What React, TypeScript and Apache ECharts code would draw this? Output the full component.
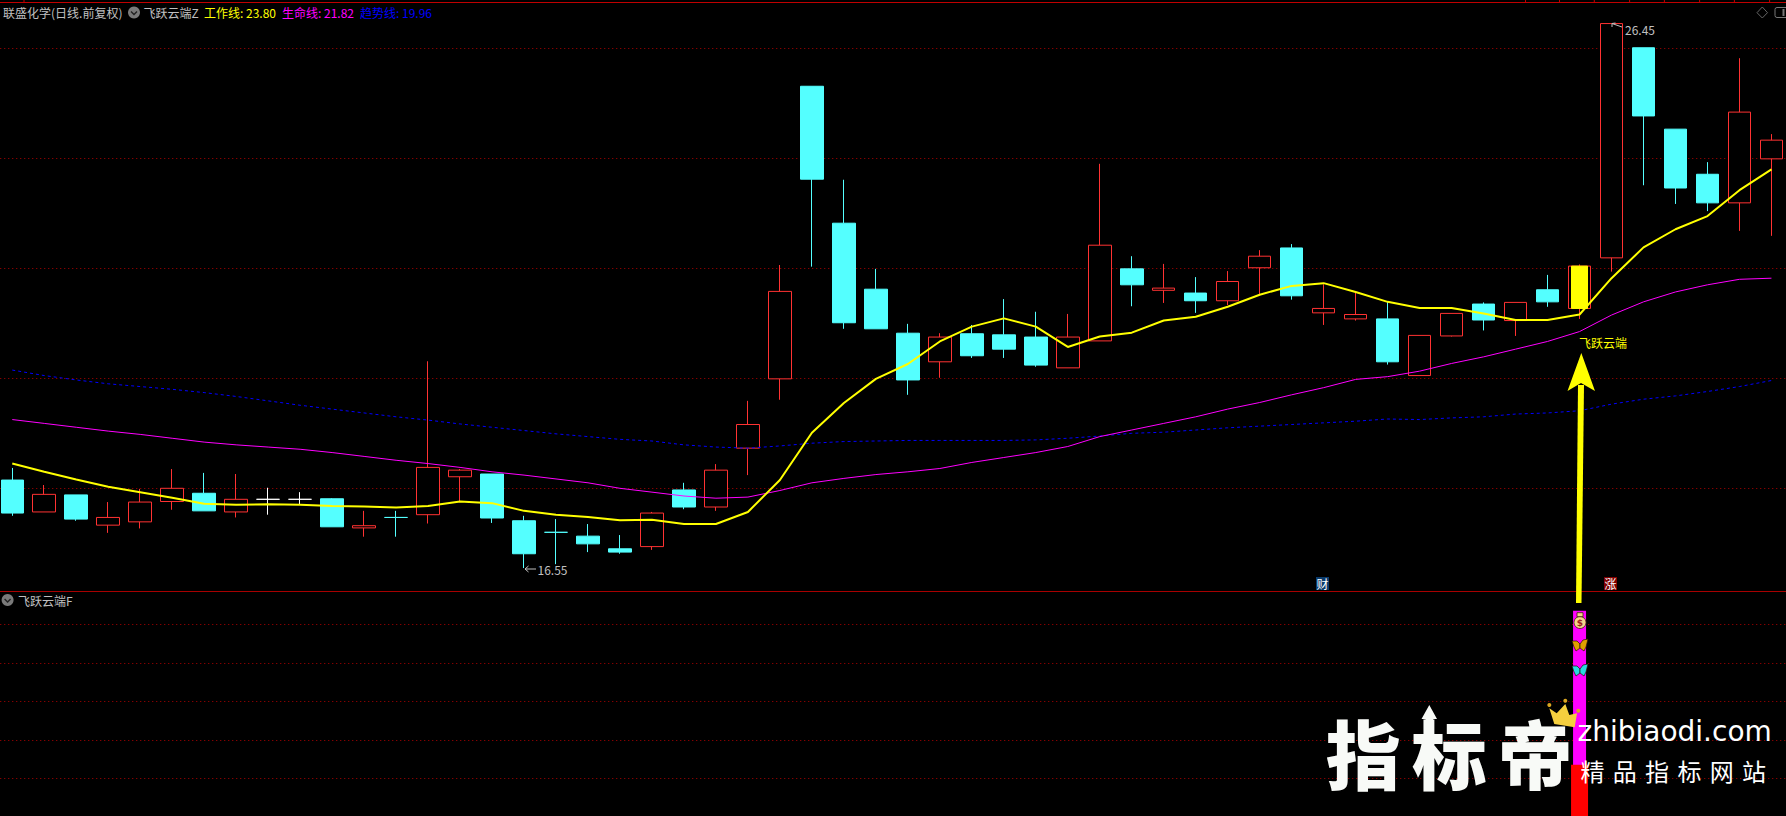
import React, { useEffect, useRef } from "react";
import * as echarts from "echarts";

// open, close, low, high
const candles: number[][] = [
  [18.15,17.55,17.50,18.37],[17.57,17.89,17.57,18.06],[17.88,17.44,17.41,17.88],[17.33,17.47,17.19,17.75],
  [17.39,17.75,17.27,17.99],[17.76,18.00,17.61,18.35],[17.91,17.59,17.59,18.28],[17.57,17.80,17.47,18.26],
  [17.80,17.80,17.52,18.01],[17.80,17.80,17.71,17.93],[17.81,17.30,17.30,17.82],[17.28,17.32,17.12,17.59],
  [17.47,17.47,17.12,17.59],[17.52,18.38,17.36,20.31],[18.21,18.33,17.76,18.35],[18.26,17.46,17.37,18.26],
  [17.41,16.81,16.55,17.50],[17.20,17.20,16.62,17.44],[17.13,16.99,16.84,17.35],[16.90,16.84,16.81,17.15],
  [16.94,17.55,16.88,17.57],[17.97,17.66,17.62,18.10],[17.66,18.33,17.59,18.44],[18.73,19.16,18.24,19.59],
  [19.99,21.58,19.61,22.06],[25.31,23.62,22.03,25.31],[22.82,21.01,20.90,23.61],[21.62,20.90,20.90,21.99],
  [20.82,19.97,19.70,20.99],[20.30,20.75,20.01,20.82],[20.81,20.41,20.37,20.97],[20.79,20.53,20.37,21.44],
  [20.75,20.24,20.21,21.21],[20.19,20.75,20.19,21.17],[20.68,22.42,20.68,23.90],[21.99,21.70,21.31,22.22],
  [21.60,21.64,21.37,22.08],[21.55,21.41,21.19,21.84],[21.41,21.76,21.33,21.95],[22.01,22.22,21.51,22.33],
  [22.37,21.50,21.43,22.44],[21.19,21.27,20.97,21.71],[21.08,21.16,21.05,21.56],[21.08,20.30,20.25,21.39],
  [20.05,20.78,20.05,20.78],[20.77,21.18,20.76,21.18],[21.35,21.06,20.87,21.38],[21.05,21.38,20.77,21.38],
  [21.61,21.39,21.30,21.88],[21.27,22.04,21.08,22.07],[22.19,26.45,21.94,26.45],[26.01,24.77,23.51,26.01],
  [24.53,23.46,23.17,24.53],[23.71,23.19,23.04,23.93],[23.19,24.84,22.68,25.82],[23.99,24.33,22.59,24.44],
];
const workLine = [18.45,18.30,18.16,18.03,17.93,17.83,17.72,17.70,17.71,17.70,17.68,17.67,17.65,17.68,17.76,17.73,17.59,17.52,17.48,17.42,17.43,17.35,17.35,17.57,18.15,19.01,19.55,19.99,20.26,20.67,20.94,21.09,20.94,20.57,20.76,20.83,21.05,21.12,21.30,21.52,21.68,21.73,21.57,21.39,21.28,21.28,21.18,21.06,21.06,21.16,21.82,22.38,22.71,22.95,23.42,23.80];
const lifeLine = [19.25,19.18,19.11,19.04,18.98,18.91,18.84,18.79,18.75,18.71,18.65,18.58,18.51,18.45,18.38,18.30,18.24,18.17,18.10,18.00,17.93,17.86,17.82,17.84,17.96,18.10,18.18,18.25,18.30,18.36,18.47,18.56,18.65,18.76,18.94,19.06,19.18,19.30,19.44,19.56,19.70,19.83,19.98,20.03,20.13,20.27,20.39,20.53,20.67,20.85,21.15,21.39,21.57,21.70,21.80,21.82];
const trendLine = [20.15,20.05,19.97,19.90,19.85,19.80,19.74,19.67,19.59,19.51,19.44,19.37,19.30,19.24,19.17,19.11,19.05,18.99,18.94,18.89,18.86,18.79,18.75,18.73,18.77,18.82,18.85,18.86,18.87,18.87,18.87,18.87,18.88,18.91,18.95,19.00,19.02,19.06,19.10,19.13,19.16,19.19,19.22,19.26,19.25,19.28,19.30,19.35,19.37,19.41,19.53,19.62,19.68,19.76,19.85,19.96];
const categories = candles.map((_, i) => "D" + (i + 1));
const signalIndex = 49;
const whiteDoji = [8, 9];
const signalMagenta = 53.5;
const signalRed = 13.5;
const headerItems: [string, string][] = [
  ["联盛化学(日线.前复权)", "#C0C0C0"],
  ["飞跃云端Z", "#C0C0C0"],
  ["工作线: 23.80", "#FFFF00"],
  ["生命线: 21.82", "#FF00FF"],
  ["趋势线: 19.96", "#0000FF"],
];
const headerX = [3, 143.5, 204, 282, 360];
const wmSmall = ["精", "品", "指", "标", "网", "站"];
const wmBig = ["指", "标", "帝"];

const RED = "#FF3232";
const CYAN = "#54FFFF";
const GRID = "#B00000";
const CJK = '"Noto Sans CJK SC"';

function butterfly(cx: number, cy: number, col: string) {
  const w = (pts: number[][], c: string) => ({
    type: "polygon", silent: true, z: 30,
    shape: { points: pts.map(([a, b]) => [cx + a, cy + b]) },
    style: { fill: c, stroke: "#221100", lineWidth: 0.7 },
  });
  return [
    w([[-8, -4], [-3, -4], [0, -1], [0, 3], [-4, 6], [-6, 2]], col),
    w([[8, -6], [3, -5], [0, -1], [0, 3], [4, 6], [6, 2]], col),
  ];
}

function icon(cx: number, cy: number) {
  return [
    { type: "circle", silent: true, z: 30, shape: { cx, cy, r: 6 }, style: { fill: "#7A7A7A" } },
    { type: "polyline", silent: true, z: 31, shape: { points: [[cx - 3, cy - 1], [cx, cy + 2], [cx + 3, cy - 1]] }, style: { stroke: "#222", lineWidth: 1.4, fill: "none" } },
  ];
}

function text(t: string, x: number, y: number, fill: string, font = `12px ${CJK}`, align = "left", extra: any = {}) {
  return { type: "text", silent: true, z: 40, style: { text: t, x, y, fill, font, textAlign: align, textVerticalAlign: "middle", ...extra } };
}
function seg(pts: number[][], stroke: string, lineWidth = 1, z = 30) {
  return { type: "polyline", silent: true, z, shape: { points: pts }, style: { stroke, lineWidth, fill: "none" } };
}

export default function App() {
  const ref = useRef<HTMLDivElement>(null);
  useEffect(() => {
    document.body.style.margin = "0";
    document.body.style.background = "#000";
    const chart = echarts.init(ref.current!, undefined, { renderer: "svg" });
    const candleData = candles.map((c, i) => {
      const up = c[1] > c[0];
      const flat = c[1] === c[0];
      const col = flat ? (whiteDoji.includes(i) ? "#FFFFFF" : CYAN) : up ? RED : CYAN;
      const fill = up ? "#000000" : col;
      return { value: c, itemStyle: { color: fill, color0: fill, borderColor: col, borderColor0: col, borderWidth: 1 } };
    });
    const topTicks = [24, 1525.5, 1559.5, 1594.3, 1629.6, 1664.4, 1699.6, 1734.4, 1769.6];
    const graphic: any[] = [
      seg([[0, 2.5], [1786, 2.5]], "#C00000", 1),
      ...topTicks.map((x) => seg([[x, 0], [x, 2]], "#C00000", 1)),
      seg([[0, 591.5], [1786, 591.5]], "#A80000", 1),
      ...headerItems.map(([t, c], i) => text(t, headerX[i], 12.5, c)),
      ...icon(134, 12.5),
      ...icon(7.6, 600),
      text("飞跃云端F", 18, 600, "#C0C0C0"),
      { type: "polygon", silent: true, z: 30, shape: { points: [[1762.3, 7], [1767.5, 12.7], [1762.3, 18], [1757, 12.7]] }, style: { fill: "none", stroke: "#666", lineWidth: 1 } },
      { type: "rect", silent: true, z: 30, shape: { x: 1775, y: 7.5, width: 14, height: 10, r: 2 }, style: { fill: "none", stroke: "#777", lineWidth: 1 } },
      seg([[1783.5, 9], [1783.5, 16]], "#777", 2),
      // extreme labels
      seg([[536, 569], [525, 569]], "#C0C0C0"),
      seg([[528.5, 566], [525, 569], [528.5, 572]], "#C0C0C0"),
      text("16.55", 537.5, 569, "#C0C0C0"),
      seg([[1622, 27], [1612, 23.5]], "#C0C0C0"),
      seg([[1612, 27], [1612, 23.5], [1615.5, 23]], "#C0C0C0"),
      text("26.45", 1625, 29, "#C0C0C0"),
      text("飞跃云端", 1579, 342, "#FFFF00"),
      // big arrow
      { type: "polygon", silent: true, z: 35, shape: { points: [[1581.3, 353], [1595, 391], [1581, 383], [1567.5, 391]] }, style: { fill: "#FFFF00" } },
      { type: "polygon", silent: true, z: 35, shape: { points: [[1578, 385], [1584, 385], [1581.5, 603], [1576, 603]] }, style: { fill: "#FFFF00" } },
      // tags on the divider
      { type: "rect", silent: true, z: 30, shape: { x: 1316, y: 577, width: 13, height: 13 }, style: { fill: "#0A3A6B" } },
      text("财", 1322.5, 583.5, "#FFFFFF", `12px ${CJK}`, "center"),
      { type: "rect", silent: true, z: 30, shape: { x: 1604, y: 577, width: 13, height: 13 }, style: { fill: "#800000" } },
      text("涨", 1610.5, 583.5, "#FFFFFF", `12px ${CJK}`, "center"),
      // signal icons
      { type: "circle", silent: true, z: 30, shape: { cx: 1580, cy: 622.5, r: 6 }, style: { fill: "#F3D58A", stroke: "#3A2400", lineWidth: 0.8 } },
      { type: "rect", silent: true, z: 30, shape: { x: 1577, y: 612.7, width: 6, height: 4 }, style: { fill: "#F3D58A", stroke: "#3A2400", lineWidth: 0.8 } },
      text("$", 1580, 623, "#A02020", `bold 9px "DejaVu Sans"`, "center"),
      ...butterfly(1580, 645, "#E0A000"),
      ...butterfly(1580, 670, "#28D8E0"),
      // watermark
      ...wmBig.map((c, i) => text(c, 1363.3 + i * 86, 751, "#F8FAF7", `900 75px ${CJK}`, "center", { shadowBlur: 6, shadowColor: "rgba(255,255,255,0.35)", shadowOffsetX: 2, shadowOffsetY: 2 })),
      { type: "polygon", silent: true, z: 41, shape: { points: [[1429.3, 705], [1437, 719], [1433, 719], [1433, 730], [1425.5, 730], [1425.5, 719], [1421.5, 719]] }, style: { fill: "#F8FAF7" } },
      { type: "polygon", silent: true, z: 42, shape: { points: [[1549.3, 708.3], [1556.7, 713.3], [1565.3, 704], [1569.3, 715], [1577, 713.3], [1574.7, 727.3], [1554.3, 724]] }, style: { fill: "#F5CF3E" } },
      ...[[1549.3, 705], [1565.3, 700.7], [1578.3, 710.7]].map(([cx, cy]) => ({ type: "circle", silent: true, z: 42, shape: { cx, cy, r: 2 }, style: { fill: "#D9A520" } })),
      text("zhibiaodi.com", 1577.5, 731, "#FFFFFF", `28px "DejaVu Sans"`, "left", { shadowBlur: 4, shadowColor: "rgba(255,255,255,0.4)" }),
      ...wmSmall.map((c, i) => text(c, 1592.5 + i * 32.3, 770, "#FFFFFF", `24px ${CJK}`, "center", { shadowBlur: 4, shadowColor: "rgba(255,255,255,0.4)" })),
    ];

    const option: any = {
      animation: false,
      backgroundColor: "#000",
      graphic,
      grid: [
        { left: -3.74, width: 1791.2, top: 4.3, height: 594, show: false, outerBoundsMode: "none" },
        { left: -3.74, width: 1791.2, top: 591.3, height: 225.5, show: false, outerBoundsMode: "none" },
      ],
      xAxis: [
        { type: "category", data: categories, gridIndex: 0, show: false },
        { type: "category", data: categories, gridIndex: 1, show: false },
        { type: "category", data: categories, gridIndex: 1, show: false },
      ],
      yAxis: [
        {
          type: "value", gridIndex: 0, min: 16, max: 26.8, interval: 2,
          axisLine: { show: false }, axisTick: { show: false }, axisLabel: { show: false },
          splitLine: { show: true, showMinLine: false, showMaxLine: false, lineStyle: { color: GRID, type: [1, 3], width: 1 } },
        },
        {
          type: "value", gridIndex: 1, min: 0, max: 58.57, interval: 10,
          axisLine: { show: false }, axisTick: { show: false }, axisLabel: { show: false },
          splitLine: { show: true, showMinLine: false, showMaxLine: false, lineStyle: { color: GRID, type: [1, 3], width: 1 } },
        },
      ],
      series: [
        { type: "candlestick", name: "K", xAxisIndex: 0, yAxisIndex: 0, barWidth: 23, data: candleData, z: 2, clip: false },
        {
          type: "candlestick", name: "signal", xAxisIndex: 0, yAxisIndex: 0, barWidth: 17, z: 3, clip: false,
          data: candles.map((c, i) => (i === signalIndex ? [c[0], c[1], c[0], c[1]] : ["-", "-", "-", "-"])),
          itemStyle: { color: "#FFFF00", color0: "#FFFF00", borderColor: "#FFFF00", borderColor0: "#FFFF00" },
        },
        { type: "line", name: "趋势线", xAxisIndex: 0, yAxisIndex: 0, data: trendLine, showSymbol: false, z: 4, lineStyle: { color: "#0000FF", width: 1, type: [3, 3] } },
        { type: "line", name: "生命线", xAxisIndex: 0, yAxisIndex: 0, data: lifeLine, showSymbol: false, z: 5, lineStyle: { color: "#FF00FF", width: 1 } },
        { type: "line", name: "工作线", xAxisIndex: 0, yAxisIndex: 0, data: workLine, showSymbol: false, z: 6, lineStyle: { color: "#FFFF00", width: 2 } },
        { type: "bar", xAxisIndex: 1, yAxisIndex: 1, barWidth: 13, z: 2, itemStyle: { color: "#FF00FF" }, data: categories.map((_, i) => (i === signalIndex ? signalMagenta : null)) },
        { type: "bar", xAxisIndex: 2, yAxisIndex: 1, barWidth: 17, z: 3, itemStyle: { color: "#FF0000" }, data: categories.map((_, i) => (i === signalIndex ? signalRed : null)) },
      ],
    };
    chart.setOption(option);
    return () => chart.dispose();
  }, []);
  return <div ref={ref} style={{ width: 1786, height: 816, background: "#000", overflow: "hidden" }} />;
}
